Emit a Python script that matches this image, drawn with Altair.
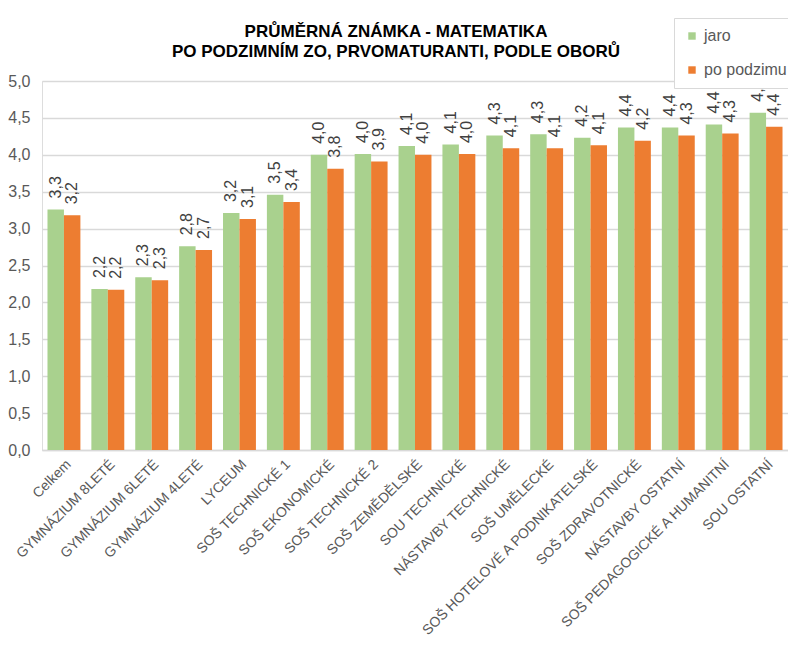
import altair as alt
import pandas as pd

categories = ["Celkem", "GYMNÁZIUM 8LETÉ", "GYMNÁZIUM 6LETÉ", "GYMNÁZIUM 4LETÉ", "LYCEUM",
              "SOŠ TECHNICKÉ 1", "SOŠ EKONOMICKÉ", "SOŠ TECHNICKÉ 2", "SOŠ ZEMĚDĚLSKÉ",
              "SOU TECHNICKÉ", "NÁSTAVBY TECHNICKÉ", "SOŠ UMĚLECKÉ",
              "SOŠ HOTELOVÉ A PODNIKATELSKÉ", "SOŠ ZDRAVOTNICKÉ", "NÁSTAVBY OSTATNÍ",
              "SOŠ PEDAGOGICKÉ A HUMANITNÍ", "SOU OSTATNÍ"]
jaro = [3.26, 2.18, 2.34, 2.76, 3.21, 3.46, 4.00, 4.01, 4.12, 4.14, 4.26, 4.28, 4.23, 4.37, 4.37, 4.41, 4.57]
po_podzimu = [3.18, 2.17, 2.30, 2.71, 3.13, 3.36, 3.81, 3.91, 4.00, 4.01, 4.09, 4.09, 4.13, 4.19, 4.26, 4.29, 4.38]
series = ["jaro", "po podzimu"]
colors = ["#a9d18e", "#ed7d31"]
y_ticks = [0, 0.5, 1, 1.5, 2, 2.5, 3, 3.5, 4, 4.5, 5]

rows = []
for c, a, b in zip(categories, jaro, po_podzimu):
    rows.append({"kategorie": c, "serie": series[0], "hodnota": a})
    rows.append({"kategorie": c, "serie": series[1], "hodnota": b})
df = pd.DataFrame(rows)

FONT = "Liberation Sans, Arial, sans-serif"

x = alt.X("kategorie:N", sort=categories,
          scale=alt.Scale(paddingInner=0.25, paddingOuter=0.125),
          axis=alt.Axis(title=None, labelAngle=-45, labelFontSize=14,
                        labelFont=FONT, labelColor="#595959", ticks=False,
                        labelPadding=7, domainColor="#d9d9d9", domainWidth=1.5,
                        labelLimit=400))
xo = alt.XOffset("serie:N", sort=series, scale=alt.Scale(paddingInner=0, paddingOuter=0))
y = alt.Y("hodnota:Q", scale=alt.Scale(domain=[0, 5], nice=False),
          axis=alt.Axis(title=None, values=y_ticks, grid=True, gridColor="#d9d9d9",
                        gridWidth=1.5, domain=False, ticks=False, labelPadding=12,
                        labelFontSize=16, labelFont=FONT, labelColor="#595959",
                        labelExpr="replace(format(datum.value, '.1f'), '.', ',')"))

base = alt.Chart(df)

bars = base.mark_bar().encode(
    x=x, xOffset=xo, y=y,
    color=alt.Color("serie:N", sort=series,
                    scale=alt.Scale(domain=series, range=colors),
                    legend=alt.Legend(title=None, orient="none", legendX=632, legendY=-63,
                                      symbolType="square", symbolSize=55,
                                      labelFontSize=16, labelFont=FONT,
                                      labelColor="#595959", rowPadding=18,
                                      labelOffset=4,
                                      fillColor="white", strokeColor="#d9d9d9",
                                      padding=10, symbolStrokeWidth=0))
)

labels = base.transform_calculate(
    lbl="replace(format(datum.hodnota, '.1f'), '.', ',')"
).mark_text(angle=270, align="left", baseline="middle", dx=11,
            fontSize=16, font=FONT, color="#404040").encode(
    x=x, xOffset=xo, y=y, text="lbl:N"
)

chart = (bars + labels).properties(
    width=746, height=369,
    autosize=alt.AutoSizeParams(type="none"),
    padding={"left": 34, "top": 73, "right": 0, "bottom": 188},
    title=alt.TitleParams(["PRŮMĚRNÁ ZNÁMKA - MATEMATIKA",
                           "PO PODZIMNÍM ZO, PRVOMATURANTI, PODLE OBORŮ"],
                          fontSize=17, font=FONT, fontWeight="bold", color="#000000",
                          anchor="middle", dx=-19, lineHeight=20, offset=-43),
).configure_view(stroke=None).configure(background="white")

chart.save("out.html", embed_options={"renderer": "svg", "actions": False})
